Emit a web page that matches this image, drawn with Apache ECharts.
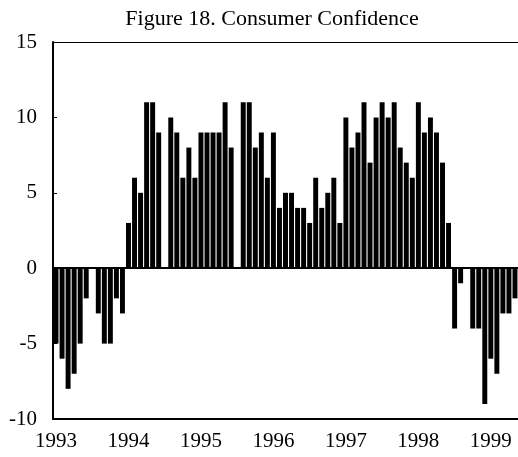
<!DOCTYPE html>
<html>
<head>
<meta charset="utf-8">
<script src="https://cdn.jsdelivr.net/npm/echarts@6/dist/echarts.min.js"></script>
<style>
    html, body { margin: 0; padding: 0; background: #fff; }
    #chart { width: 518px; height: 457px; }
</style>
</head>
<body>
<div id="chart"></div>
<script>
const years = ["1993", "1994", "1995", "1996", "1997", "1998", "1999"]
const monthsShown = [12, 12, 12, 12, 12, 12, 5]

// monthly index values, Jan 1993 .. May 1999 (0 = no bar drawn)
const values1993 = [-5, -6, -8, -7, -5, -2, 0, -3, -5, -5, -2, -3]
const values1994 = [3, 6, 5, 11, 11, 9, 0, 10, 9, 6, 8, 6]
const values1995 = [9, 9, 9, 9, 11, 8, 0, 11, 11, 8, 9, 6]
const values1996 = [9, 4, 5, 5, 4, 4, 3, 6, 4, 5, 6, 3]
const values1997 = [10, 8, 9, 11, 7, 10, 11, 10, 11, 8, 7, 6]
const values1998 = [11, 9, 10, 9, 7, 3, -4, -1, 0, -4, -4, -9]
const values1999 = [-6, -7, -3, -3, -2]

const yTicks = [-10, -5, 0, 5, 10, 15]

const values = [].concat(values1993, values1994, values1995,
    values1996, values1997, values1998, values1999)

// one category per month, labelled by its year
const categories = []
years.forEach((y, i) => {
    for (let m = 0; m < monthsShown[i]; m++) {
        categories.push(y + "-" + (m + 1))
    }
})

const font = "Liberation Serif"
const chart = echarts.init(document.getElementById("chart"), null, { renderer: "canvas" })

chart.setOption({
    animation: false,
    backgroundColor: "#fff",
    title: {
        text: "Figure 18. Consumer Confidence",
        left: 267,
        textAlign: "center",
        top: 3,
        textStyle: { fontFamily: font, fontSize: 22, fontWeight: "normal", color: "#000" }
    },
    grid: { left: 53, right: 0, top: 42, bottom: 38 },
    xAxis: [{
        type: "category",
        data: categories,
        position: "bottom",
        axisLine: { onZero: false, lineStyle: { color: "#000", width: 2 } },
        axisTick: { show: false },
        axisLabel: {
            interval: 11,
            margin: 12,
            fontFamily: font,
            fontSize: 21,
            color: "#000",
            formatter: v => v.split("-")[0]
        }
    }, {
        type: "category",
        data: categories,
        position: "top",
        axisLine: { onZero: false, lineStyle: { color: "#000", width: 1 } },
        axisTick: { show: false },
        axisLabel: { show: false }
    }],
    yAxis: {
        type: "value",
        min: yTicks[0],
        max: yTicks[yTicks.length - 1],
        interval: 5,
        axisLine: { show: true, lineStyle: { color: "#000", width: 2 } },
        axisTick: { show: true, inside: true, length: 4, lineStyle: { color: "#000" } },
        splitLine: { show: false },
        axisLabel: { margin: 16, fontFamily: font, fontSize: 21, color: "#000" }
    },
    series: [{
        type: "bar",
        data: values,
        barCategoryGap: "18%",
        itemStyle: { color: "#000" },
        markLine: {
            silent: true,
            symbol: "none",
            label: { show: false },
            lineStyle: { color: "#000", width: 2, type: "solid" },
            data: [{ yAxis: 0 }]
        }
    }]
})
</script>
</body>
</html>
